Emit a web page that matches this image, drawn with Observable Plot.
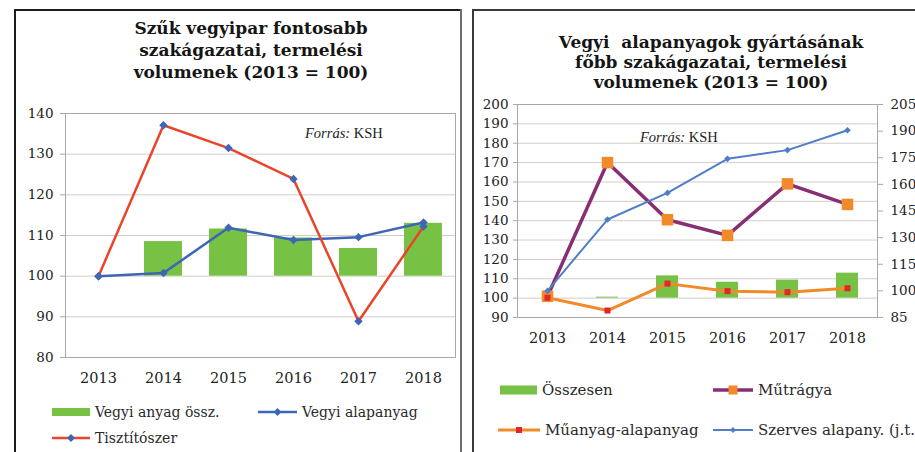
<!DOCTYPE html>
<html>
<head>
<meta charset="utf-8">
<script src="https://cdn.jsdelivr.net/npm/d3@7"></script>
<script src="https://cdn.jsdelivr.net/npm/@observablehq/plot@0.6"></script>
<style>
  html, body { margin: 0; padding: 0; background: #fff; }
  #page { position: relative; width: 915px; height: 452px; overflow: hidden; background: #fff; font-family: "DejaVu Serif", "Liberation Serif", serif; color: #222; }
  .abs { position: absolute; }
  .title { position: absolute; text-align: center; font-family: "DejaVu Serif", "Liberation Serif", serif; font-weight: bold; font-size: 17px; color: #151515; white-space: nowrap; }
  .src { position: absolute; font-family: "Liberation Serif", serif; font-size: 14.5px; color: #222; white-space: nowrap; line-height: 16px; }
  .leg { position: absolute; display: flex; align-items: center; white-space: nowrap; color: #2a2a2a; font-family: "DejaVu Serif", "Liberation Serif", serif; }
  .leg svg { margin-right: 5px; flex: none; }
</style>
</head>
<body>
<div id="page"></div>
<script>
// ---------- data ----------
const years = ["2013", "2014", "2015", "2016", "2017", "2018"];

// left chart: Szűk vegyipar
const vegyiAnyagOssz = [100, 108.5, 111.6, 109.4, 106.8, 113];
const vegyiAlapanyag = [100, 100.8, 111.9, 108.9, 109.6, 113.2];
const tisztitoszer   = [100, 137.1, 131.5, 123.9, 88.9, 112.2];
const leftTicks = [80, 90, 100, 110, 120, 130, 140];

// right chart: Vegyi alapanyagok
const osszesen = [100, 100.5, 111.5, 108.2, 109.3, 112.9];
const mutragya = [101, 170, 140.5, 132.4, 159, 148.4];
const muanyagAlapanyag = [100.2, 93.6, 107.5, 103.6, 103.1, 105.1];
const szervesAlapany = [100, 140.2, 155.2, 174.4, 179.3, 190.5]; // right axis (j.t.)
const rightTicks = [90, 100, 110, 120, 130, 140, 150, 160, 170, 180, 190, 200];
const rightTicks2 = [85, 100, 115, 130, 145, 160, 175, 190, 205];

// ---------- styles ----------
const FONT = '"DejaVu Serif", "Liberation Serif", serif';
const GREEN = "#77c145";
const BLUE_L = "#3d66b4";
const RED = "#e8452c";
const PURPLE = "#862f73";
const ORANGE = "#f28a2a";
const MARK_RED = "#e3262a";
const BLUE_R = "#4f7dc8";
const GRID = "#d3cbc9";
const FRAME = "#ada6a4";
const TXT = "#222";

const page = document.getElementById("page");

function place(node, left, top) {
  const d = document.createElement("div");
  d.className = "abs";
  d.style.left = left + "px";
  d.style.top = top + "px";
  d.appendChild(node);
  page.appendChild(d);
  return d;
}
function box(left, top, w, h, color) {
  const d = document.createElement("div");
  d.className = "abs";
  Object.assign(d.style, {left: left + "px", top: top + "px", width: w + "px", height: h + "px", background: color});
  page.appendChild(d);
}

// panel borders
box(14, 9, 448, 2, "#1c1c1c");
box(14, 9, 2, 443, "#1c1c1c");
box(460, 9, 2, 443, "#6e6e6e");
box(472, 9, 443, 2, "#3a3a3a");
box(472, 9, 2, 443, "#3a3a3a");

// titles
function title(lines, cx, top, lh) {
  const d = document.createElement("div");
  d.className = "title";
  d.style.left = (cx - 220) + "px";
  d.style.width = "440px";
  d.style.top = top + "px";
  d.style.lineHeight = lh + "px";
  d.innerHTML = lines.join("<br>");
  page.appendChild(d);
}
title(["Szűk vegyipar fontosabb", "szakágazatai, termelési", "volumenek (2013 = 100)"], 251, 17, 22);
title(["Vegyi&nbsp; alapanyagok gyártásának", "főbb szakágazatai, termelési", "volumenek (2013 = 100)"], 711, 32, 20);

// ---------- left chart ----------
const leftData = years.map((year, i) => ({year, ossz: vegyiAnyagOssz[i], alap: vegyiAlapanyag[i], tiszt: tisztitoszer[i]}));

const left = Plot.plot({
  width: 445, height: 300,
  marginLeft: 50, marginRight: 5, marginTop: 18, marginBottom: 38,
  style: {fontFamily: FONT, color: TXT, background: "transparent", overflow: "visible"},
  x: {type: "band", domain: years, paddingInner: 0.42, paddingOuter: 0.21, label: null},
  y: {domain: [80, 140], label: null},
  marks: [
    Plot.gridY(leftTicks, {stroke: GRID, strokeOpacity: 1}),
    Plot.frame({stroke: FRAME}),
    Plot.barY(leftData, {x: "year", y1: 100, y2: "ossz", fill: GREEN}),
    Plot.line(leftData, {x: "year", y: "alap", stroke: BLUE_L, strokeWidth: 2.5}),
    Plot.dot(leftData, {x: "year", y: "alap", symbol: "diamond2", r: 3.8, fill: BLUE_L, stroke: null}),
    Plot.line(leftData, {x: "year", y: "tiszt", stroke: RED, strokeWidth: 2.5}),
    Plot.dot(leftData, {x: "year", y: "tiszt", symbol: "diamond2", r: 3.8, fill: BLUE_L, stroke: null}),
    Plot.axisY(leftTicks, {tickSize: 5, tickPadding: 7, fontSize: 13.5, stroke: FRAME, fill: TXT}),
    Plot.axisX({tickSize: 0, tickPadding: 15, fontSize: 14.5, fill: TXT})
  ]
});
place(left, 15, 95);

// ---------- right chart ----------
const y2 = d3.scaleLinear().domain([85, 205]).range([90, 200]);
const rightData = years.map((year, i) => ({
  year, ossz: osszesen[i], mut: mutragya[i], mua: muanyagAlapanyag[i], szer: y2(szervesAlapany[i])
}));

const right = Plot.plot({
  width: 442, height: 260,
  marginLeft: 44, marginRight: 38, marginTop: 12, marginBottom: 35,
  style: {fontFamily: FONT, color: TXT, background: "transparent", overflow: "visible"},
  x: {type: "band", domain: years, paddingInner: 0.63, paddingOuter: 0.315, label: null},
  y: {domain: [90, 200], label: null},
  marks: [
    Plot.gridY(rightTicks, {stroke: GRID, strokeOpacity: 1}),
    Plot.frame({stroke: FRAME}),
    Plot.barY(rightData, {x: "year", y1: 100, y2: "ossz", fill: GREEN}),
    Plot.line(rightData, {x: "year", y: "mut", stroke: PURPLE, strokeWidth: 3.5}),
    Plot.dot(rightData, {x: "year", y: "mut", symbol: "square", r: 6.5, fill: ORANGE, stroke: null}),
    Plot.line(rightData, {x: "year", y: "mua", stroke: ORANGE, strokeWidth: 3}),
    Plot.dot(rightData, {x: "year", y: "mua", symbol: "square", r: 3.4, fill: MARK_RED, stroke: null}),
    Plot.line(rightData, {x: "year", y: "szer", stroke: BLUE_R, strokeWidth: 2}),
    Plot.dot(rightData, {x: "year", y: "szer", symbol: "diamond2", r: 3, fill: BLUE_R, stroke: null}),
    Plot.axisY(rightTicks, {anchor: "left", tickSize: 4, tickPadding: 5, fontSize: 13.5, stroke: FRAME, fill: TXT}),
    Plot.axisY(rightTicks2.map(y2), {anchor: "right", tickSize: 5, tickPadding: 8, fontSize: 13.5, stroke: FRAME, fill: TXT,
      tickFormat: d => String(Math.round(y2.invert(d)))}),
    Plot.axisX({tickSize: 0, tickPadding: 15, fontSize: 14.5, fill: TXT})
  ]
});
place(right, 473, 92);

// ---------- annotations ----------
function source(left, cy) {
  const d = document.createElement("div");
  d.className = "src";
  d.style.left = left + "px";
  d.style.top = (cy - 8) + "px";
  d.innerHTML = "<i>Forrás:</i> KSH";
  page.appendChild(d);
}
source(305, 133);
source(640, 137);

// ---------- legends ----------
const NS = "http://www.w3.org/2000/svg";
function swatch(spec) {
  const s = document.createElementNS(NS, "svg");
  s.setAttribute("width", spec.w);
  s.setAttribute("height", 14);
  if (spec.type === "rect") {
    const r = document.createElementNS(NS, "rect");
    r.setAttribute("x", 0); r.setAttribute("y", 7 - spec.h / 2);
    r.setAttribute("width", spec.w); r.setAttribute("height", spec.h);
    r.setAttribute("fill", spec.fill);
    s.appendChild(r);
  } else {
    const l = document.createElementNS(NS, "line");
    l.setAttribute("x1", 0); l.setAttribute("x2", spec.w);
    l.setAttribute("y1", 7); l.setAttribute("y2", 7);
    l.setAttribute("stroke", spec.stroke); l.setAttribute("stroke-width", spec.sw);
    s.appendChild(l);
    const c = spec.w / 2, m = spec.m;
    const p = document.createElementNS(NS, "path");
    if (spec.marker === "square") p.setAttribute("d", `M${c - m},${7 - m}h${2 * m}v${2 * m}h${-2 * m}Z`);
    else p.setAttribute("d", `M${c},${7 - m}L${c + m},7L${c},${7 + m}L${c - m},7Z`);
    p.setAttribute("fill", spec.mfill);
    s.appendChild(p);
  }
  return s;
}
function legendItem(x, cy, spec, text, fs) {
  const d = document.createElement("div");
  d.className = "leg";
  d.style.left = x + "px";
  d.style.top = (cy - 10) + "px";
  d.style.height = "20px";
  d.style.fontSize = fs + "px";
  d.appendChild(swatch(spec));
  const t = document.createElement("span");
  t.textContent = text;
  d.appendChild(t);
  page.appendChild(d);
}
legendItem(52, 412, {type: "rect", w: 38, h: 8, fill: GREEN}, "Vegyi anyag össz.", 14);
legendItem(258, 412, {type: "line", w: 39, stroke: BLUE_L, sw: 2.5, marker: "diamond", m: 4, mfill: BLUE_L}, "Vegyi alapanyag", 14);
legendItem(52, 438, {type: "line", w: 38, stroke: RED, sw: 2.5, marker: "diamond", m: 4, mfill: BLUE_L}, "Tisztítószer", 14);

legendItem(500, 390, {type: "rect", w: 37, h: 9, fill: GREEN}, "Összesen", 15);
legendItem(713, 390, {type: "line", w: 40, stroke: PURPLE, sw: 3.5, marker: "square", m: 4.5, mfill: ORANGE}, "Műtrágya", 15);
legendItem(498, 430, {type: "line", w: 42, stroke: ORANGE, sw: 3, marker: "square", m: 3, mfill: MARK_RED}, "Műanyag-alapanyag", 15);
legendItem(713, 430, {type: "line", w: 40, stroke: BLUE_R, sw: 2, marker: "diamond", m: 3, mfill: BLUE_R}, "Szerves alapany. (j.t.)", 15);
</script>
</body>
</html>
